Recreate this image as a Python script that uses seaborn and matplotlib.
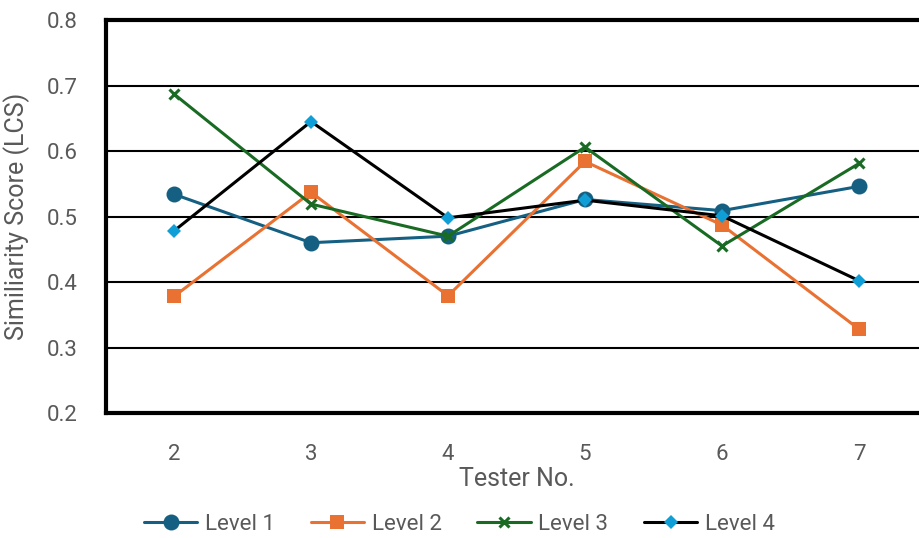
import matplotlib
matplotlib.use("Agg")
import matplotlib.pyplot as plt
import seaborn as sns
import pandas as pd

testers = [2, 3, 4, 5, 6, 7]
level1 = [0.534, 0.460, 0.470, 0.526, 0.509, 0.546]
level2 = [0.378, 0.537, 0.379, 0.584, 0.487, 0.328]
level3 = [0.687, 0.519, 0.470, 0.606, 0.455, 0.581]
level4 = [0.478, 0.645, 0.498, 0.525, 0.501, 0.402]
yticks = [0.2, 0.3, 0.4, 0.5, 0.6, 0.7, 0.8]

sns.set_theme(style="white")
plt.rcParams['font.family'] = ['Roboto', 'DejaVu Sans']
grey = "#595959"

df = pd.DataFrame({"Tester": testers, "Level 1": level1, "Level 2": level2,
                   "Level 3": level3, "Level 4": level4})

fig = plt.figure(figsize=(9.19, 5.38), dpi=100)
ax = fig.add_axes([0.1148, 0.2323, 0.8945, 0.7305])

series = [
    ("Level 1", "#156082", "o", "#156082", 11.5),
    ("Level 2", "#E97132", "s", "#E97132", 10.5),
    ("Level 3", "#196B24", "x", "#196B24", 7),
    ("Level 4", "#000000", "D", "#0F9ED5", 7.5),
]
for name, col, mk, mcol, ms in series:
    sns.lineplot(data=df, x="Tester", y=name, ax=ax, color=col, linewidth=2.2,
                 marker=mk, markersize=ms, markerfacecolor=mcol,
                 markeredgecolor=mcol, markeredgewidth=2.2 if mk == "x" else 0,
                 label=name, zorder=3)

ax.set_xlim(1.5, 7.5)
ax.set_ylim(0.2, 0.8)
ax.set_xticks(testers)
ax.set_yticks(yticks)
ax.set_yticklabels([f"{t:.1f}" for t in yticks])
for t in yticks[1:-1]:
    ax.axhline(t, color="black", linewidth=1.5, zorder=1)

for side in ["left", "top", "bottom"]:
    ax.spines[side].set_color("black")
    ax.spines[side].set_linewidth(3)
ax.spines["right"].set_visible(False)
ax.tick_params(axis="both", length=0, labelsize=16, colors=grey)
ax.tick_params(axis="y", pad=20)
ax.tick_params(axis="x", pad=22)

ax.set_xlabel("Tester No.", fontsize=18, color=grey, labelpad=2)
ax.set_ylabel("Similiarity Score (LCS)", fontsize=18, color=grey, labelpad=12)

handles, labels = ax.get_legend_handles_labels()
ax.get_legend().remove()
fig.legend(handles, labels, loc="center", bbox_to_anchor=(0.5, 0.026), ncol=4,
           frameon=False, fontsize=16, handlelength=2.4, handletextpad=0.35,
           columnspacing=1.6, labelcolor=grey, borderaxespad=0)

fig.savefig("out.png", dpi=100)
